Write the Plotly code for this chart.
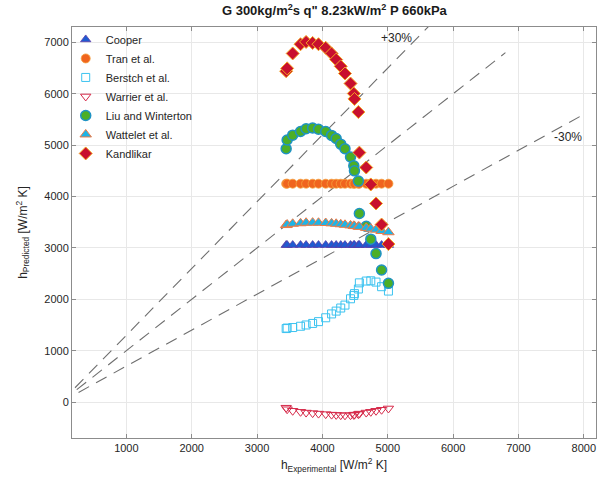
import plotly.graph_objects as go

# ---------------- data ----------------
h_exp = [3445, 3460, 3545, 3665, 3750, 3850, 3940, 4050, 4140, 4210, 4280,
         4345, 4430, 4480, 4490, 4550, 4565, 4670, 4740, 4820, 4905, 5010]

cooper = [3055, 3055, 3055, 3055, 3055, 3055, 3055, 3055, 3055, 3055, 3055,
          3055, 3055, 3055, 3055, 3055, 3055, 3055, 3055, 3055, 3055, 3055]
tran = [4250, 4250, 4250, 4250, 4250, 4250, 4250, 4250, 4250, 4250, 4250,
        4250, 4250, 4250, 4250, 4250, 4250, 4250, 4250, 4250, 4250, 4250]
berstch = [1430, 1440, 1450, 1475, 1500, 1530, 1565, 1640, 1715, 1770, 1830,
           1887, 2010, 2075, 2110, 2200, 2320, 2355, 2360, 2335, 2245, 2160]
warrier = [-110, -140, -170, -190, -205, -215, -225, -235, -245, -250, -255,
           -258, -255, -250, -245, -235, -225, -205, -190, -170, -150, -125]
liu = [4930, 5100, 5195, 5265, 5320, 5335, 5310, 5265, 5190, 5130, 5020,
       4930, 4770, 4600, 4500, 4300, 3670, 3420, 3170, 2890, 2570, 2310]
wattelet = [3445, 3455, 3470, 3480, 3490, 3492, 3490, 3485, 3478, 3470, 3460,
            3450, 3438, 3430, 3425, 3415, 3410, 3390, 3375, 3355, 3330, 3305]
kandlikar = [6440, 6495, 6785, 6965, 7010, 6990, 6965, 6895, 6785, 6665, 6535,
             6395, 6200, 6005, 5900, 5645, 4855, 4565, 4235, 3865, 3455, 3075]

# reference lines: (factor, x end)
ref_factors = [1.3, 1.0, 0.7]
ref_x_end = [6000, 6800, 8000]
ref_labels = ["+30%", "-30%"]

x_range = [168, 8186]
y_range = [-700, 7300]
x_ticks = [1000, 2000, 3000, 4000, 5000, 6000, 7000, 8000]
y_ticks = [0, 1000, 2000, 3000, 4000, 5000, 6000, 7000]

# ---------------- figure ----------------
fig = go.Figure()

for f, xe in zip(ref_factors, ref_x_end):
    fig.add_trace(go.Scatter(
        x=[0, xe], y=[0, f * xe], mode="lines", showlegend=False,
        line=dict(color="#6e6e6e", width=1.1, dash="12px,8px"), hoverinfo="skip"))

series = [
    ("Cooper", cooper, dict(symbol="triangle-up", size=9, color="#1f5bd1",
                            line=dict(color="#5a3ea8", width=0.8))),
    ("Tran et al.", tran, dict(symbol="circle", size=9, color="#f0641e",
                               line=dict(color="#f5a03c", width=0.8))),
    ("Berstch et al.", berstch, dict(symbol="square-open", size=8, color="#3cc3f0",
                                     line=dict(color="#3cc3f0", width=1))),
    ("Warrier et al.", warrier, dict(symbol="triangle-down-open", size=9, color="#d62a4a",
                                     line=dict(color="#d62a4a", width=1))),
    ("Liu and Winterton", liu, dict(symbol="circle", size=10, color="#4caf26",
                                    line=dict(color="#1f93c4", width=1.5))),
    ("Wattelet et al.", wattelet, dict(symbol="triangle-up", size=10, color="#1eb4e6",
                                       line=dict(color="#f07a45", width=1))),
    ("Kandlikar", kandlikar, dict(symbol="diamond", size=10, color="#c8102e",
                                  line=dict(color="#f5a623", width=1))),
]
for name, ys, mk in series:
    fig.add_trace(go.Scatter(x=h_exp, y=ys, mode="markers", name=name, marker=mk))

fig.add_annotation(x=5140, y=7080, text=ref_labels[0], showarrow=False,
                   font=dict(size=12, color="#262626"))
fig.add_annotation(x=7760, y=5155, text=ref_labels[1], showarrow=False,
                   font=dict(size=12, color="#262626"))

axis_common = dict(showline=True, linecolor="#8c8c8c", linewidth=1, mirror="ticks",
                   ticks="inside", ticklen=4, tickcolor="#8c8c8c",
                   showgrid=True, gridcolor="#e8e8e8", gridwidth=1, zeroline=False,
                   tickfont=dict(size=11, color="#262626"))

fig.update_layout(
    width=608, height=492,
    margin=dict(l=72, r=12, t=27, b=54),
    paper_bgcolor="white", plot_bgcolor="white",
    font=dict(family="Liberation Sans, Arial, sans-serif", color="#262626"),
    title=dict(text='<b>G 300kg/m<sup>2</sup>s q" 8.23kW/m<sup>2</sup> P 660kPa</b>',
               x=0.55, xanchor="center", y=0.978, yanchor="middle",
               font=dict(size=13, color="#1a1a1a")),
    xaxis=dict(range=x_range, tickvals=x_ticks,
               title=dict(text="h<sub>Experimental</sub> [W/m<sup>2</sup> K]",
                          font=dict(size=12), standoff=7), **axis_common),
    yaxis=dict(range=y_range, tickvals=y_ticks,
               title=dict(text="h<sub>Predicted</sub> [W/m<sup>2</sup> K]",
                          font=dict(size=12), standoff=14), **axis_common),
    legend=dict(x=-0.012, y=1.005, xanchor="left", yanchor="top",
                bgcolor="rgba(0,0,0,0)", borderwidth=0,
                font=dict(size=11, color="#262626"), tracegroupgap=0),
    showlegend=True,
)

fig.write_html("out.html")
